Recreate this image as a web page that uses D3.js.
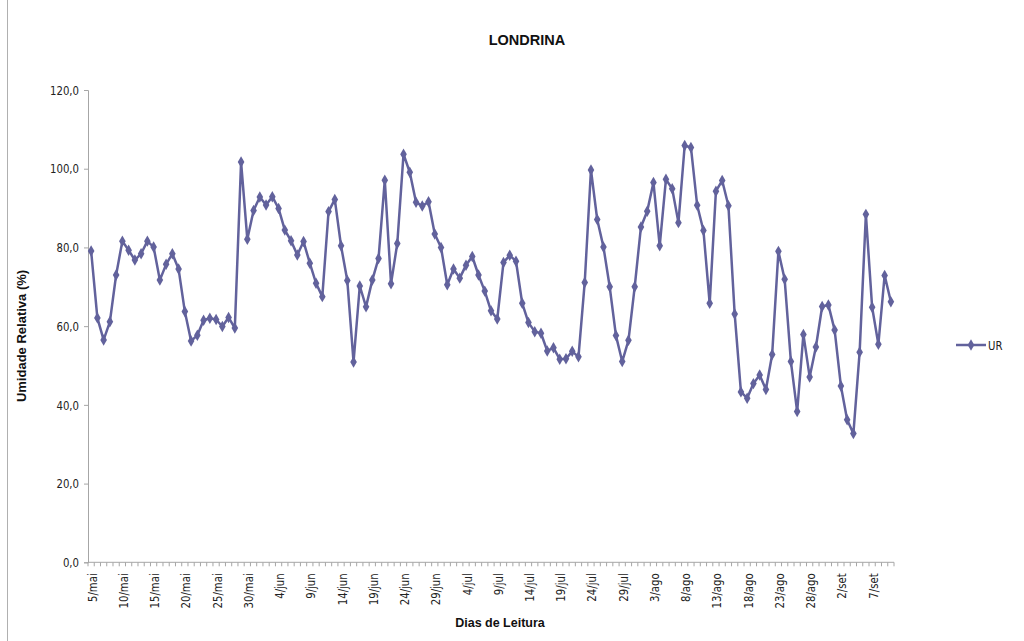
<!DOCTYPE html>
<html>
<head>
<meta charset="utf-8">
<script src="https://cdn.jsdelivr.net/npm/d3@7/dist/d3.min.js"></script>
<style>
  html, body { margin: 0; padding: 0; background: #fff; }
  svg { display: block; font-family: "Liberation Sans", Arial, sans-serif; }
  .tickfont { font-family: "DejaVu Sans", sans-serif; }
</style>
</head>
<body>
<svg id="chart" width="1024" height="641"></svg>
<script>
// Daily relative humidity readings, Londrina, 5/mai to 10/set
const monthNames = ["mai", "jun", "jul", "ago", "set"];
const monthLengths = [31, 30, 31, 31, 30];
const startDay = 5;
const seriesName = "UR";
const urValues = [
  79.1, 62.1, 56.5, 61.1, 73.0, 81.6, 79.3, 76.8, 78.4, 81.6,
  80.1, 71.7, 75.7, 78.4, 74.5, 63.7, 56.2, 57.7, 61.5, 62.0,
  61.7, 59.9, 62.2, 59.5, 101.7, 82.1, 89.4, 92.8, 90.8, 92.9,
  89.9, 84.4, 81.7, 78.1, 81.5, 76.0, 70.9, 67.5, 89.1, 92.2,
  80.4, 71.6, 50.9, 70.2, 64.9, 71.7, 77.2, 97.1, 70.8, 81.0,
  103.7, 99.1, 91.5, 90.5, 91.6, 83.4, 80.0, 70.5, 74.5, 72.2,
  75.5, 77.7, 73.0, 68.9, 63.9, 61.8, 76.2, 78.0, 76.5, 65.8,
  60.9, 58.6, 58.2, 53.7, 54.5, 51.6, 51.7, 53.6, 52.2, 71.1,
  99.7, 87.1, 80.1, 70.0, 57.6, 51.0, 56.4, 70.0, 85.2, 89.2,
  96.5, 80.4, 97.3, 94.9, 86.3, 105.9, 105.4, 90.7, 84.3, 65.8,
  94.3, 97.0, 90.6, 63.1, 43.3, 41.7, 45.4, 47.6, 43.9, 52.8,
  79.0, 71.9, 51.0, 38.3, 57.9, 47.1, 54.7, 65.0, 65.4, 59.0,
  44.8, 36.2, 32.7, 53.4, 88.4, 64.8, 55.4, 72.9, 66.2
];
const yTicks = [0, 20, 40, 60, 80, 100, 120];

// Build "d/mmm" day labels
const dayLabels = [];
{
  let m = 0, d = startDay;
  for (let i = 0; i < urValues.length; i++) {
    dayLabels.push(d + "/" + monthNames[m]);
    d++;
    if (d > monthLengths[m]) { d = 1; m++; }
  }
}
const data = urValues.map((v, i) => ({ label: dayLabels[i], value: v }));

const svg = d3.select("#chart");
const plot = { left: 88, right: 894, top: 90, bottom: 562.3 };
const lineColor = "#62629c";
const axisColor = "#a6a6a6";
const squeeze = 0.78; // narrow the tick-label glyphs horizontally
const tickSize = 13;

// Chart frame edge
svg.append("line")
  .attr("x1", 7.5).attr("x2", 7.5).attr("y1", 0).attr("y2", 641)
  .attr("stroke", "#b0b0b0").attr("stroke-width", 1);

const x = d3.scaleBand()
  .domain(dayLabels)
  .range([plot.left, plot.right])
  .paddingInner(0).paddingOuter(0);

const y = d3.scaleLinear()
  .domain([0, 120])
  .range([plot.bottom, plot.top]);

const fmt = v => d3.format(".1f")(v).replace(".", ",");

// Y axis
const yAxis = svg.append("g")
  .attr("transform", `translate(${plot.left},0)`)
  .call(d3.axisLeft(y).tickValues(yTicks).tickFormat(fmt).tickSize(4).tickPadding(5));
yAxis.select(".domain").attr("stroke", axisColor);
yAxis.selectAll(".tick line").attr("stroke", axisColor);
yAxis.selectAll(".tick text")
  .attr("class", "tickfont")
  .attr("x", -9 / squeeze)
  .attr("transform", `scale(${squeeze},1)`)
  .attr("font-size", tickSize).attr("fill", "#222");

// X axis: a tick on every category boundary, labels every 5 days
const xg = svg.append("g").attr("transform", `translate(0,${plot.bottom})`);
xg.append("line")
  .attr("x1", plot.left).attr("x2", plot.right)
  .attr("stroke", axisColor);
const bounds = d3.range(dayLabels.length + 1).map(i => plot.left + i * x.step());
xg.selectAll("line.tk").data(bounds).join("line")
  .attr("class", "tk")
  .attr("x1", d => d).attr("x2", d => d)
  .attr("y1", 0).attr("y2", 4)
  .attr("stroke", axisColor);
xg.selectAll("text.lbl")
  .data(dayLabels.filter((d, i) => i % 5 === 0))
  .join("text")
  .attr("class", "lbl tickfont")
  .attr("transform", d => `translate(${x(d) + x.bandwidth() / 2 + 5.5},${11}) rotate(-90) scale(${squeeze},1)`)
  .attr("text-anchor", "end")
  .attr("font-size", tickSize)
  .attr("fill", "#222")
  .text(d => d);

// Line and diamond markers
const line = d3.line()
  .x(d => x(d.label) + x.bandwidth() / 2)
  .y(d => y(d.value));
svg.append("path")
  .datum(data)
  .attr("d", line)
  .attr("fill", "none")
  .attr("stroke", lineColor)
  .attr("stroke-width", 2.5)
  .attr("stroke-linejoin", "round");

const diamond = d3.symbol().type(d3.symbolDiamond).size(38);
svg.append("g").selectAll("path")
  .data(data)
  .join("path")
  .attr("transform", d => `translate(${x(d.label) + x.bandwidth() / 2},${y(d.value)})`)
  .attr("d", diamond)
  .attr("fill", lineColor);

// Titles
svg.append("text")
  .attr("x", 527).attr("y", 45)
  .attr("text-anchor", "middle")
  .attr("font-size", 14.5).attr("font-weight", "bold")
  .attr("fill", "#111")
  .text("LONDRINA");

svg.append("text")
  .attr("transform", `translate(26,336) rotate(-90)`)
  .attr("text-anchor", "middle")
  .attr("font-size", 13).attr("font-weight", "bold")
  .attr("fill", "#111")
  .text("Umidade Relativa (%)");

svg.append("text")
  .attr("x", 500).attr("y", 627)
  .attr("text-anchor", "middle")
  .attr("font-size", 12.5).attr("font-weight", "bold")
  .attr("fill", "#111")
  .text("Dias de Leitura");

// Legend
const lg = svg.append("g").attr("transform", "translate(956,345)");
lg.append("line").attr("x1", 0).attr("x2", 30)
  .attr("stroke", lineColor).attr("stroke-width", 2.5);
lg.append("path").attr("transform", "translate(15,0)").attr("d", diamond).attr("fill", lineColor);
lg.append("text").attr("class", "tickfont")
  .attr("transform", `translate(32,5) scale(${squeeze},1)`)
  .attr("font-size", tickSize).attr("fill", "#222").text(seriesName);
</script>
</body>
</html>
